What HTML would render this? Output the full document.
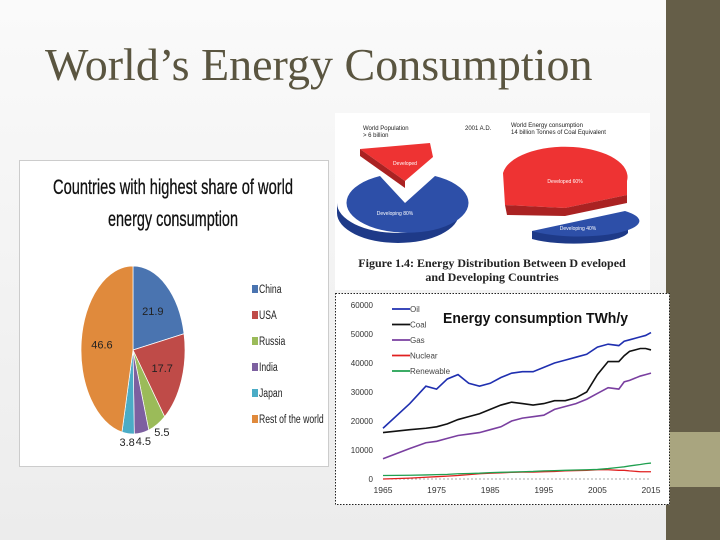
<!DOCTYPE html>
<html><head><meta charset="utf-8"><style>
body{margin:0;width:720px;height:540px;overflow:hidden;background:linear-gradient(180deg,#fafafa,#ececec);font-family:"Liberation Sans",sans-serif;position:relative}
.abs{position:absolute}
</style></head><body>
<div class="abs" style="left:666px;top:0;width:54px;height:540px;background:#655e48"></div>
<div class="abs" style="left:666px;top:432px;width:54px;height:55px;background:#a9a57f"></div>
<div class="abs" style="left:45px;top:38px;font-family:'Liberation Serif',serif;font-size:46px;color:#5a5540;white-space:nowrap">World’s Energy Consumption</div>

<svg class="abs" style="left:19px;top:160px" width="310" height="307" viewBox="0 0 310 307">
<rect x="0.5" y="0.5" width="309" height="306" fill="#fff" stroke="#ccc"/>
<text x="34" y="34" textLength="240" lengthAdjust="spacingAndGlyphs" font-size="21" fill="#111" stroke="#111" stroke-width="0.3">Countries with highest share of world</text>
<text x="89" y="66" textLength="130" lengthAdjust="spacingAndGlyphs" font-size="21" fill="#111" stroke="#111" stroke-width="0.3">energy consumption</text>
<g id="pie"></g><g id="legend"></g>
</svg>

<svg class="abs" style="left:335px;top:113px" width="315" height="177" viewBox="0 0 315 177">
<rect width="315" height="177" fill="#fff"/>
<text x="28" y="17" font-size="6" fill="#222">World Population</text><text x="28" y="24" font-size="6" fill="#222">&gt; 6 billion</text>
<text x="130" y="17" font-size="6" fill="#222">2001 A.D.</text>
<text x="176" y="14" font-size="6" fill="#222">World Energy consumption</text><text x="176" y="21" font-size="6" fill="#222">14 billion Tonnes of Coal Equivalent</text>
<path d="M25 36 L95 30 L98 44 L70 68 Z" fill="#e33"/>
<path d="M25 36 L25 43 L70 75 L70 68Z" fill="#a22"/>
<path d="M2 90 L2 100 A61 30 0 0 0 124 100 L124 90 A61 30 0 0 1 2 90Z" fill="#1e3a88"/>
<path d="M45 63 L70 90 L100 63 A61 30 0 1 1 45 63 Z" fill="#2d4fa8"/>
<path d="M168 60 A62 30 0 0 1 292 68 L292 82 L230 95 L170 92 Z" fill="#e33"/>
<path d="M170 92 L230 95 L292 82 L292 90 L230 103 L172 102Z" fill="#a22"/>
<path d="M197 118 L197 126 A55 13 0 0 0 293 120 L293 112Z" fill="#1e3a88"/>
<path d="M197 118 L290 98 A55 14 0 0 1 197 118Z" fill="#2d4fa8"/>
<text x="70" y="52" font-size="5" fill="#fff" text-anchor="middle">Developed</text>
<text x="60" y="102" font-size="5" fill="#fff" text-anchor="middle">Developing 80%</text>
<text x="230" y="70" font-size="5" fill="#fff" text-anchor="middle">Developed 60%</text>
<text x="243" y="117" font-size="5" fill="#fff" text-anchor="middle">Developing 40%</text>
<text x="157" y="154" text-anchor="middle" font-family="Liberation Serif,serif" font-weight="bold" font-size="12" fill="#222">Figure 1.4: Energy Distribution Between D eveloped</text>
<text x="157" y="168" text-anchor="middle" font-family="Liberation Serif,serif" font-weight="bold" font-size="12" fill="#222">and Developing Countries</text>
</svg>

<svg class="abs" style="left:335px;top:293px" width="335" height="212" viewBox="0 0 335 212">
<rect x="0.5" y="0.5" width="334" height="211" fill="#fff" stroke="#222" stroke-dasharray="1.5,1.5"/>
<text x="108" y="30" font-size="14.5" font-weight="bold" textLength="185" lengthAdjust="spacingAndGlyphs" fill="#111">Energy consumption TWh/y</text>
<g id="axes"></g><g id="lines"></g><g id="lleg"></g>
</svg>

<script>
// Pie data
const pieLabels=["China","USA","Russia","India","Japan","Rest of the world"];
const pieValues=[21.9,17.7,5.5,4.5,3.8,46.6];
const pieColors=["#4a74b0","#bf4b48","#9bbb59","#7d60a0","#4bacc6","#e08a3c"];
// Line data
const years=[1965,1970,1973,1975,1977,1979,1981,1983,1985,1987,1989,1991,1993,1995,1997,1999,2001,2003,2005,2007,2009,2010,2011,2013,2014,2015];
const oil=[17.5,26,32,31,34.5,36,33,32,33,35,36.5,37,37,38.5,40,41,42,43,45.5,46.5,46,47.5,48,49,49.5,50.5];
const coal=[16,17,17.5,18,19,20.5,21.5,22.5,24,25.5,26.5,26,25.5,26,27,27,28,30,36,40.5,40.5,42.5,44,45,45,44.5];
const gas=[7,10.5,12.5,13,14,15,15.5,16,17,18,20,21,21.5,22,24,25,26,27.5,29.5,31.5,31,33.5,34,35.5,36,36.5];
const nuclear=[0,0.3,0.6,0.8,1,1.2,1.5,1.8,2,2.1,2.3,2.4,2.4,2.5,2.6,2.8,2.9,3,3.2,3.2,3,3,2.8,2.5,2.5,2.5];
const renewable=[1.2,1.3,1.4,1.5,1.6,1.8,1.9,2,2.2,2.3,2.4,2.5,2.6,2.8,2.9,3,3.1,3.2,3.3,3.6,4,4.2,4.5,5,5.3,5.5];
const yTicks=[0,10000,20000,30000,40000,50000,60000];
const xTicks=[1965,1975,1985,1995,2005,2015];
const seriesNames=["Oil","Coal","Gas","Nuclear","Renewable"];
const seriesData=[oil,coal,gas,nuclear,renewable];
const seriesColors=["#1f2fb0","#111","#7a3fa0","#e02020","#20a050"];

const NS="http://www.w3.org/2000/svg";
function mk(tag,attrs,parent){const e=document.createElementNS(NS,tag);for(const k in attrs)e.setAttribute(k,attrs[k]);parent.appendChild(e);return e;}

// pie
const pie=document.getElementById('pie'),leg=document.getElementById('legend');
const cx=114,cy=190,rx=52,ry=84;
const tot=pieValues.reduce((a,b)=>a+b,0);
let a0=-Math.PI/2;
pieValues.forEach((v,i)=>{
 const a1=a0+v/tot*2*Math.PI;
 const x0=cx+rx*Math.cos(a0),y0=cy+ry*Math.sin(a0),x1=cx+rx*Math.cos(a1),y1=cy+ry*Math.sin(a1);
 const p=mk('path',{d:`M${cx} ${cy}L${x0} ${y0}A${rx} ${ry} 0 ${a1-a0>Math.PI?1:0} 1 ${x1} ${y1}Z`,fill:pieColors[i],stroke:'#fff','stroke-width':0.7},pie);
 
 
 const am=(a0+a1)/2, inside=v>10, f=inside?0.6:1.2;
 const t=mk('text',{x:cx+rx*f*Math.cos(am),y:cy+ry*(inside?0.6:1.1)*Math.sin(am)+4,'text-anchor':'middle','font-size':11,fill:'#222'},pie);
 t.textContent=v;
 
 
 const ly=132+i*26;
 const r=mk('rect',{x:233,y:ly-7,width:6,height:8,fill:pieColors[i]},leg);
 
 
 const lt=mk('text',{x:240,y:ly+1,'font-size':12,fill:'#222',transform:`translate(240 0) scale(0.72 1) translate(-240 0)`},leg);
 lt.textContent=pieLabels[i];
 
 
 a0=a1;
});

// line chart
const X0=48,X1=316,Y0=186,Y1=12;
const sx=y=>X0+(y-1965)/(2015-1965)*(X1-X0);
const sy=v=>Y0-v/60000*(Y0-Y1);
const ax=document.getElementById('axes');
yTicks.forEach(t=>{const e=mk('text',{x:X0-10,y:sy(t)+3,'text-anchor':'end','font-size':8,fill:'#333'},ax);e.textContent=t;
 
 });
xTicks.forEach(t=>{const e=mk('text',{x:sx(t),y:Y0+14,'text-anchor':'middle','font-size':8.5,fill:'#333'},ax);e.textContent=t;
 
 });
mk('line',{x1:X0,y1:Y0,x2:X1,y2:Y0,stroke:'#aaa','stroke-dasharray':'2,2'},ax);
const ln=document.getElementById('lines'),ll=document.getElementById('lleg');
seriesData.forEach((d,i)=>{
 const pts=d.map((v,j)=>sx(years[j])+','+sy(v*1000)).join(' ');
 const pl=mk('polyline',{points:pts,fill:'none',stroke:seriesColors[i],'stroke-width':i<3?1.6:1.3},ln);
 
 
 const y=16+i*15.5;
 mk('line',{x1:57,y1:y,x2:75,y2:y,stroke:seriesColors[i],'stroke-width':1.8},ll);
 const t=mk('text',{x:75,y:y+3,'font-size':8,fill:'#444'},ll);t.textContent=seriesNames[i];
 
 
});
</script>
</body></html>
